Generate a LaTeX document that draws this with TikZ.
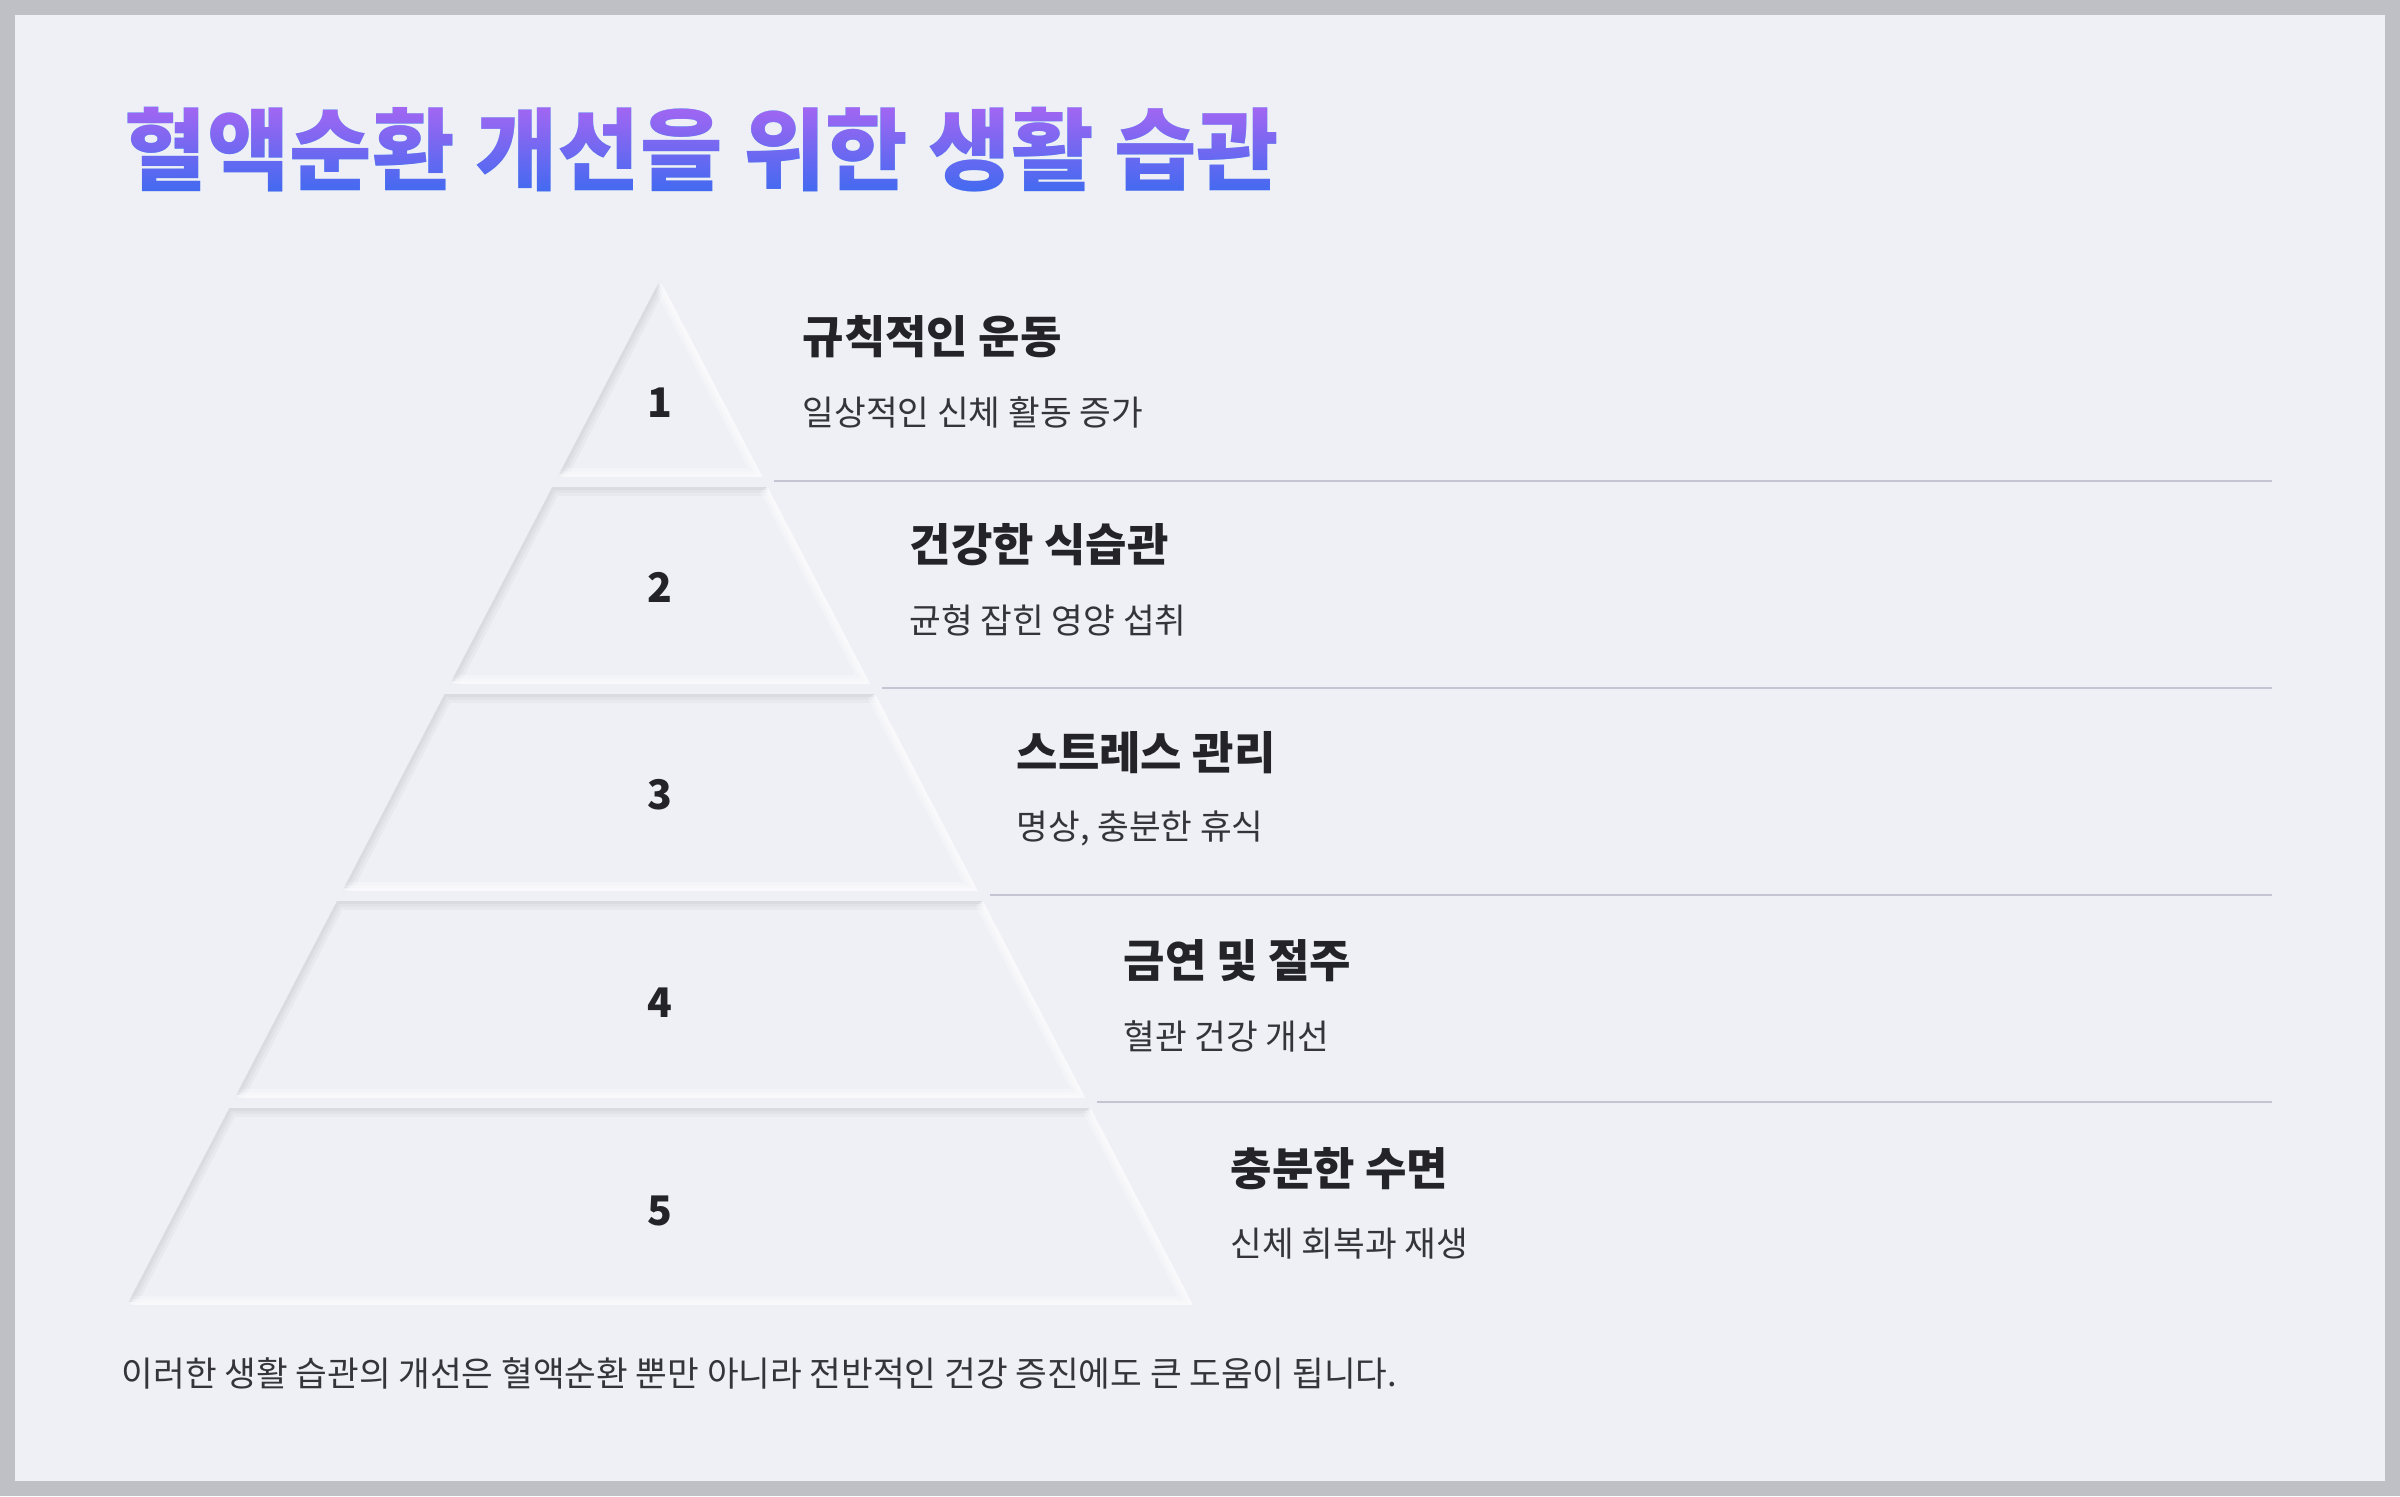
\documentclass[tikz,border=0pt]{standalone}
\usepackage{fontspec}
\setmainfont{Noto Sans CJK KR}
\usetikzlibrary{positioning,calc}
\definecolor{framegray}{RGB}{191,192,197}
\definecolor{panelbg}{RGB}{238,240,245}
\definecolor{inkdark}{RGB}{36,36,40}
\definecolor{inksoft}{RGB}{52,52,58}
\definecolor{rulegray}{RGB}{196,196,210}
\definecolor{tiershadow}{RGB}{205,206,214}
\definecolor{tierglow}{RGB}{252,252,254}
\definecolor{titlebase}{RGB}{60,100,236}
\definecolor{titlepurple}{RGB}{162,102,242}
\definecolor{titleblue}{RGB}{64,106,240}
\newcommand*\bannerfont{\fontsize{25.5pt}{30pt}\selectfont\bfseries}
\tikzset{
	pxgrid/.style={x=0.01cm, y=-0.01cm},
	tier/.style={fill=panelbg},
	tierdim/.style={draw=tiershadow, line join=round},
	tierlit/.style={draw=tierglow, line join=round},
	sepline/.style={draw=rulegray, line width=0.6pt},
	numtext/.style={
		font=\fontsize{11.6pt}{13pt}\selectfont\bfseries,
		text=inkdark, inner sep=0},
	itemtitle/.style={
		font=\fontsize{12.8pt}{15pt}\selectfont\bfseries,
		text=inkdark, inner sep=0, anchor=west},
	itemsub/.style={
		font=\fontsize{9.8pt}{12pt}\selectfont,
		text=inksoft, inner sep=0},
	maintitle/.style={font=\bannerfont, text=titlebase, inner sep=0, anchor=west},
	footnote/.style={
		font=\fontsize{9.8pt}{12pt}\selectfont,
		text=inksoft, inner sep=0, anchor=west},
}

\begin{document}
\begin{tikzpicture}
[pxgrid]
\fill[framegray] (0,0) rectangle (2400,1496);
\fill[panelbg] (15,15) rectangle (2385,1481);
\useasboundingbox (0,0) rectangle (2400,1496);

\node[maintitle] (title) at (124,150) {혈액순환 개선을 위한 생활 습관};
\begin{scope}[blend mode=lighten]
	\shade[top color=titlepurple, bottom color=titleblue]
		(title.south west) rectangle (title.north east);
\end{scope}

\foreach \i/\ny/\ttl/\sub in {1/403/규칙적인 운동/일상적인 신체 활동 증가,
	2/587/건강한 식습관/균형 잡힌 영양 섭취,
	3/795/스트레스 관리/{명상, 충분한 휴식},
	4/1003/금연 및 절주/혈관 건강 개선,
	5/1211/충분한 수면/신체 회복과 재생}{
	\pgfmathsetmacro\yt{280+207*(\i-1)}
	\pgfmathsetmacro\yb{\yt+197}
	\pgfmathsetmacro\wt{0.52*(\yt-280)}
	\pgfmathsetmacro\wb{0.52*(\yb-280)}
	\coordinate (tl\i) at (660-\wt,\yt);
	\coordinate (tr\i) at (660+\wt,\yt);
	\coordinate (br\i) at (660+\wb,\yb);
	\coordinate (bl\i) at (660-\wb,\yb);
	\fill[tier] (tl\i) -- (tr\i) -- (br\i) -- (bl\i) -- cycle;
	\begin{scope}
		\clip (tl\i) -- (tr\i) -- (br\i) -- (bl\i) -- cycle;
		\foreach \w/\o in {5/0.18,3.2/0.25,1.6/0.35}{
			\draw[tierdim, line width=\w pt, opacity=\o] (bl\i) -- (tl\i) -- (tr\i);
			\draw[tierlit, line width=\w pt, opacity=\o+0.2] (tr\i) -- (br\i) -- (bl\i);
		}
	\end{scope}
	\node[numtext] (n\i) at (660,\ny) {\i};
	\node[itemtitle] (t\i) at ({802+107*(\i-1)},{337+208*(\i-1)}) {\ttl};
	\node[itemsub, below=0.75cm of t\i.west, anchor=west] (s\i) {\sub};
}

\foreach \i in {1,...,4}{
	\pgfmathsetmacro\yl{280+207*(\i-1)+201}
	\coordinate (le\i) at (2272,\yl);
	\draw[sepline] ([shift={(12,4)}]br\i) -- (le\i);
}

\node[footnote] (note) at (121,1373) {이러한 생활 습관의 개선은 혈액순환 뿐만 아니라 전반적인 건강 증진에도 큰 도움이 됩니다.};
\end{tikzpicture}
\end{document}
